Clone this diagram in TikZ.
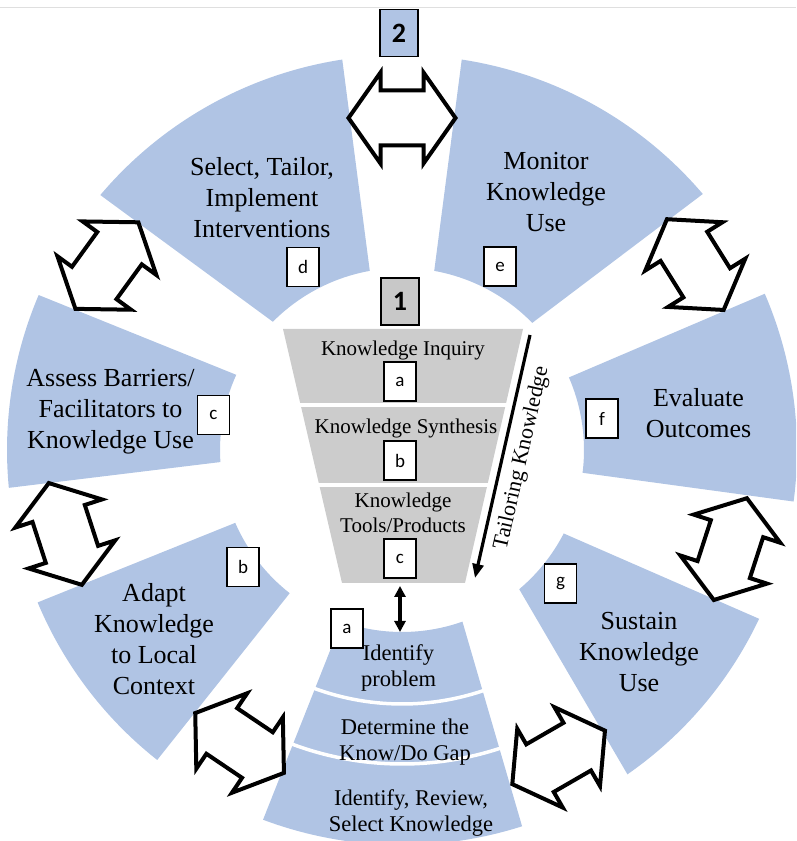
\documentclass[tikz,border=0pt]{standalone}
\usepackage{fontspec}
\setmainfont{Liberation Serif}
\newfontfamily\labfont{Carlito}
\usetikzlibrary{arrows.meta}
\definecolor{wheelblue}{RGB}{176,196,228}
\definecolor{funnelgray}{RGB}{204,204,204}
\definecolor{numgray}{RGB}{200,200,200}
\tikzset{
  sector/.style={fill=wheelblue},
  dbl/.style={draw=black, fill=white, line width=4pt, line join=miter, miter limit=10},
  letterbox/.style={draw=black, line width=1.3pt, fill=white, minimum width=32pt, minimum height=39pt, inner sep=0pt, font=\labfont\fontsize{19}{19}\selectfont},
  numbox/.style={draw=black, line width=1.3pt, minimum width=38pt, minimum height=47pt, inner sep=0pt, font=\labfont\bfseries\fontsize{28}{28}\selectfont},
  bigtxt/.style={align=center, font=\fontsize{26}{31}\selectfont, inner sep=0pt},
  midtxt/.style={align=center, font=\fontsize{22.5}{26}\selectfont, inner sep=0pt},
  funtxt/.style={align=center, font=\fontsize{21}{25}\selectfont, inner sep=0pt},
  conn/.style={line width=3.2pt},
  sepline/.style={white, line width=3.5pt},
  dblarrow/.pic={\path[dbl] (-53.5,0) -- (-21.5,45.5) -- (-21.5,27.5) -- (21.5,27.5) -- (21.5,45.5) -- (53.5,0) -- (21.5,-45.5) -- (21.5,-27.5) -- (-21.5,-27.5) -- (-21.5,-45.5) -- cycle;}
}
\newcommand\wheelsector[4]{\fill[sector] (#1:395) arc[start angle=#1, end angle=#2, radius=395] -- (#3:182) arc[start angle=#3, end angle=#4, radius=182] -- cycle;}
\begin{document}
\begin{tikzpicture}[x=1pt,y=1pt]
\useasboundingbox (0,0) rectangle (796,841);
\clip (0,0) rectangle (796,841);
% faint top rule
\draw[gray!25, line width=1pt] (0,833) -- (796,833);
% wheel
\begin{scope}[shift={(402,391)}]
  \wheelsector{139.8}{98.7}{100.2}{135.2}   % d
  \wheelsector{81.3}{40.4}{44.3}{79.8}      % e
  \wheelsector{156.9}{185.5}{183.8}{155.6}  % c
  \wheelsector{23.3}{-7.5}{-7.2}{23.5}      % f
  \wheelsector{202.7}{231.7}{231.9}{203.6}  % b
  \wheelsector{-25.3}{-55.2}{-49.9}{-27.3}  % g
  \wheelsector{-110.6}{-72.3}{-70.6}{-109.4}% a (bottom)
  \draw[sepline] (-112:254) arc[start angle=-112, end angle=-69, radius=254];
  \draw[sepline] (-113:314) arc[start angle=-113, end angle=-68, radius=314];
  % double arrows
  \pic at (90:332) {dblarrow};
  \pic[rotate=54] at (148:348) {dblarrow};
  \pic[rotate=108] at (194:347) {dblarrow};
  \pic[rotate=146] at (241:335) {dblarrow};
  \pic[rotate=30] at (297:345) {dblarrow};
  \pic[rotate=72] at (343.2:343) {dblarrow};
  \pic[rotate=122] at (32.3:347) {dblarrow};
\end{scope}
% funnel
\fill[funnelgray] (283,512) -- (523,512) -- (465,258) -- (342,258) -- cycle;
\draw[sepline, line width=4pt] (296,436) -- (510,436);
\draw[sepline, line width=4pt] (314,356) -- (492,356);
% number boxes
\node[numbox, fill=wheelblue] (num2) at (399,808) {2};
\node[numbox, fill=numgray] (num1) at (400,539.5) {1};
% funnel texts
\node[funtxt] (inquiry) at (403,491) {Knowledge Inquiry};
\node[funtxt] (synth) at (406,413) {Knowledge Synthesis};
\node[funtxt] (tools) at (403,328.5) {Knowledge\\Tools/Products};
\node[letterbox] (fa) at (400,459.5) {a};
\node[letterbox] (fb) at (400,380.5) {b};
\node[letterbox] (fc) at (400,282.5) {c};
% sector texts
\node[bigtxt] (select) at (262,643.5) {Select, Tailor,\\Implement\\Interventions};
\node[bigtxt] (monitor) at (546,648.5) {Monitor\\Knowledge\\Use};
\node[bigtxt] (assess) at (110.5,429.5) {Assess Barriers/\\Facilitators to\\Knowledge Use};
\node[bigtxt] (evaluate) at (698.5,428) {Evaluate\\Outcomes};
\node[bigtxt] (adapt) at (154,202) {Adapt\\Knowledge\\to Local\\Context};
\node[bigtxt] (sustain) at (639,189) {Sustain\\Knowledge\\Use};
\node[midtxt] (identify) at (398.5,173.5) {Identify\\problem};
\node[midtxt] (gap) at (405,98.5) {Determine the\\Know/Do Gap};
\node[midtxt] (review) at (411,27.5) {Identify, Review,\\Select Knowledge};
% letter boxes
\node[letterbox] (bd) at (303,574) {d};
\node[letterbox] (be) at (500,574.5) {e};
\node[letterbox] (bc) at (213.5,426) {c};
\node[letterbox] (bf) at (602,422.5) {f};
\node[letterbox] (bb) at (243,274) {b};
\node[letterbox] (bg) at (560.5,257.5) {g};
\node[letterbox] (ba) at (347,212.5) {a};
% tailoring knowledge arrow
\coordinate (tailtop) at (530,506);
\coordinate (tailbot) at (475,263);
\draw[conn, -{Triangle[length=14pt,width=11pt]}] (tailtop) -- (tailbot);
\node[font=\fontsize{22}{22}\selectfont, rotate=77.2, inner sep=0pt] (tailtext) at (522,383) {Tailoring Knowledge};
% funnel to problem arrow
\coordinate (funnelbot) at (400,255);
\coordinate (probtop) at (400,209);
\draw[conn, {Triangle[length=11pt,width=11pt]}-{Triangle[length=11pt,width=11pt]}] (funnelbot) -- (probtop);
\end{tikzpicture}
\end{document}
